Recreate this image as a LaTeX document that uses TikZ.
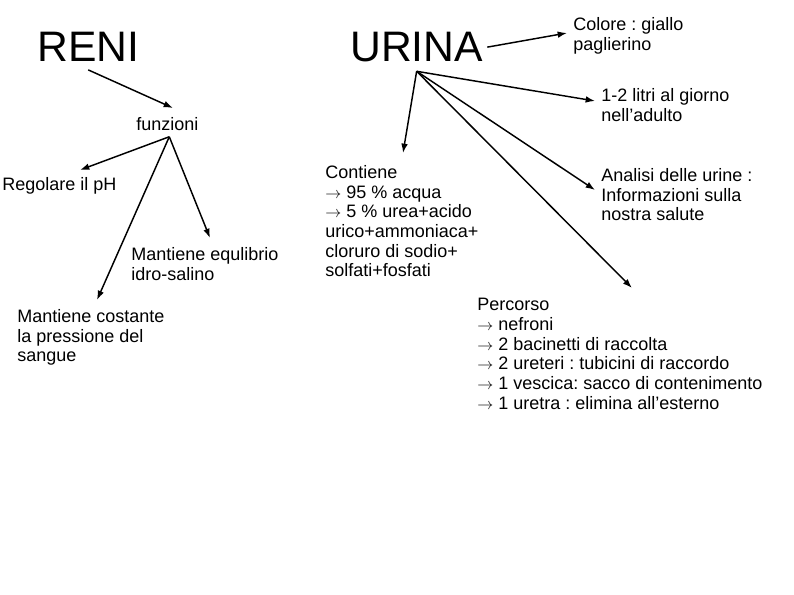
\documentclass[tikz,border=0pt]{standalone}
\usepackage{fontspec}
\setmainfont{Liberation Sans}
\usetikzlibrary{calc,arrows.meta}
\frenchspacing
\newcommand{\freccia}{{\fontsize{12.6}{14.8}\selectfont$\rightarrow$}}

\begin{document}
\begin{tikzpicture}[x=0.75pt, y=-0.75pt,
			title/.style={rectangle, inner sep=3pt, anchor=north west, font=\fontsize{32}{36}\selectfont},
			info/.style={rectangle, inner sep=3pt, anchor=north west, align=left, font=\fontsize{13.5}{14.8}\selectfont}]
			\useasboundingbox (0,0) rectangle (794,595);
			\node[title] (reni) at (33,28) {RENI};
			\node[title] (urina) at (346,28) {URINA};
			\node[info] (colore) at (569,13) {Colore : giallo\\paglierino};
			\node[info] (litri) at (597,84) {1-2 litri al giorno\\nell’adulto};
			\node[info] (funzioni) at (132,113) {funzioni};
			\node[info] (regolare) at (-2,173) {Regolare il pH};
			\node[info] (equilibrio) at (127,243) {Mantiene equlibrio\\idro-salino};
			\node[info] (costante) at (13,305) {Mantiene costante\\la pressione del\\sangue};
			\node[info] (contiene) at (321,161) {Contiene\\\freccia{} 95 \% acqua\\\freccia{} 5 \% urea+acido\\urico+ammoniaca+\\cloruro di sodio+\\solfati+fosfati};
			\node[info] (analisi) at (597,164) {Analisi delle urine :\\Informazioni sulla\\nostra salute};
			\node[info] (percorso) at (473,294) {Percorso\\\freccia{} nefroni\\\freccia{} 2 bacinetti di raccolta\\\freccia{} 2 ureteri : tubicini di raccordo\\\freccia{} 1 vescica: sacco di contenimento\\\freccia{} 1 uretra : elimina all’esterno};
			\coordinate (renistart) at ($(reni.south)+(0,4)$);
			\coordinate (urinaroot) at ($(urina.south)+(0,5)$);
			\coordinate (funzroot) at ($(funzioni.south)+(2,2)$);
			\begin{scope}[line width=1.1pt, -{Latex[length=7pt,width=5pt]}]
				\draw (renistart) -- ($(funzioni.north west)+(41,-5)$);
				\draw (funzroot) -- ($(regolare.north west)+(82,-3)$);
				\draw (funzroot) -- ($(equilibrio.north west)+(83,-5)$);
				\draw (funzroot) -- ($(costante.north west)+(84,-5)$);
				\draw (urina.east) -- ($(colore.north west)+(-2,20)$);
				\draw (urinaroot) -- ($(litri.north west)+(-2,17)$);
				\draw (urinaroot) -- ($(contiene.north west)+(82,-8)$);
				\draw (urinaroot) -- ($(analisi.north west)+(-2,26)$);
				\draw (urinaroot) -- ($(percorso.north west)+(159,-6)$);
			\end{scope}
		\end{tikzpicture}
\end{document}
